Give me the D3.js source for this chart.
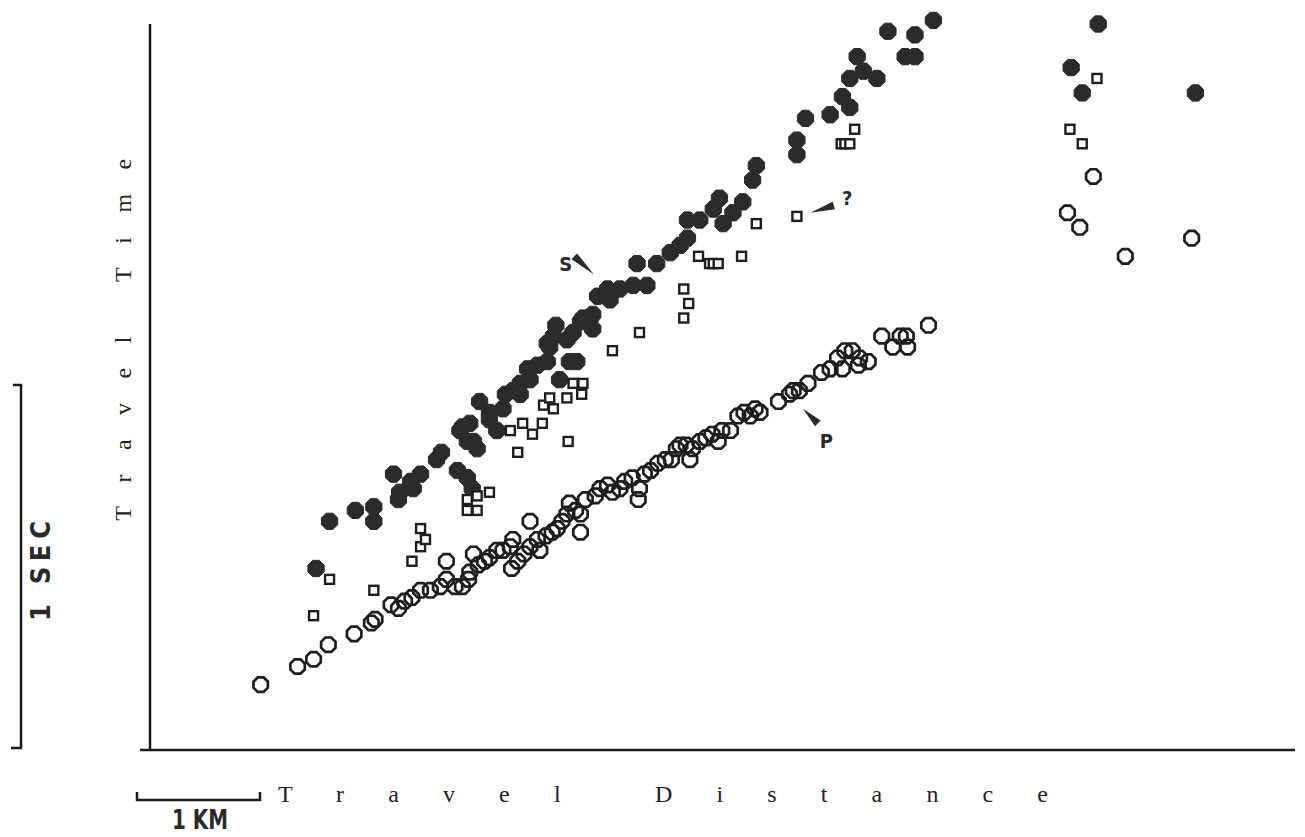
<!DOCTYPE html>
<meta charset="utf-8">
<script src="https://d3js.org/d3.v7.min.js"></script>
<style>
body { margin: 0; background: #fff; }
.axis-line { stroke: #1a1a1a; stroke-width: 2.5px; fill: none; }
.bar { stroke: #1a1a1a; stroke-width: 2.5px; fill: none; }
.ptick { fill: none; stroke: #1e1e1e; stroke-width: 2.7px; }
.stick { fill: #2b2b2b; stroke: #2b2b2b; stroke-width: 1px; }
.qtick { fill: #fff; stroke: #1e1e1e; stroke-width: 2.4px; }
.axis-title { font-family: "Liberation Serif", "DejaVu Serif", serif; font-size: 24px; fill: #222; }
.tag { font-family: "DejaVu Sans Condensed", "DejaVu Sans", sans-serif; font-weight: bold; fill: #2a2a2a; }
</style>
<div id="chart"></div>
<script>
// travel distance (km), travel time (s)
var pWave = [
  [0.90,0.18],[1.20,0.23],[1.33,0.25],[1.45,0.29],[1.66,0.32],[1.80,0.35],[1.83,0.36],[1.96,0.40],
  [2.02,0.39],[2.07,0.41],[2.13,0.42],[2.20,0.44],[2.28,0.44],[2.36,0.45],[2.41,0.47],[2.48,0.45],
  [2.54,0.45],[2.59,0.47],[2.60,0.49],[2.67,0.51],[2.72,0.52],[2.76,0.53],[2.82,0.55],[2.87,0.55],
  [2.93,0.56],[2.94,0.50],[2.99,0.52],[3.04,0.54],[3.09,0.56],[3.15,0.58],[3.17,0.55],[3.22,0.59],
  [3.27,0.60],[3.31,0.61],[3.35,0.63],[3.39,0.65],[3.41,0.68],[3.46,0.66],[3.50,0.65],[3.54,0.69],
  [3.62,0.70],[3.66,0.72],[3.72,0.73],[3.76,0.71],[3.82,0.72],[3.86,0.74],[3.92,0.75],[3.97,0.69],
  [3.98,0.72],[4.02,0.76],[4.07,0.77],[4.13,0.79],[4.19,0.80],[4.24,0.80],[4.28,0.83],[4.31,0.84],
  [4.36,0.84],[4.39,0.80],[4.41,0.83],[4.47,0.85],[4.52,0.86],[4.57,0.87],[4.62,0.85],[4.65,0.88],
  [4.72,0.88],[4.78,0.92],[4.83,0.93],[4.88,0.92],[4.92,0.94],[4.96,0.93],[5.11,0.96],[5.20,0.98],
  [5.23,0.99],[5.28,0.99],[5.35,1.01],[5.46,1.04],[5.53,1.05],[5.59,1.08],[5.63,1.05],[5.65,1.10],
  [5.71,1.10],[5.76,1.06],[5.77,1.08],[5.84,1.07],[5.95,1.14],[6.04,1.11],[6.10,1.14],[6.15,1.14],
  [6.16,1.11],[6.33,1.17],[2.41,0.52],[3.50,0.60],[2.63,0.54],[2.95,0.58],[3.09,0.63],
  [7.46,1.48],[7.56,1.44],[7.67,1.58],[7.93,1.36],[8.47,1.41]
];
var sWave = [
  [1.35,0.50],[1.46,0.63],[1.67,0.66],[1.82,0.67],[1.82,0.63],[2.02,0.69],[1.98,0.76],[2.03,0.71],
  [2.14,0.72],[2.20,0.76],[2.12,0.74],[2.33,0.80],[2.37,0.82],[2.50,0.77],[2.58,0.75],[2.62,0.72],
  [2.63,0.85],[2.60,0.90],[2.68,0.96],[2.76,0.93],[2.87,0.94],[2.95,0.99],[3.01,1.01],[3.09,1.02],
  [3.15,1.06],[3.23,1.07],[3.25,1.11],[3.33,1.02],[3.39,1.13],[3.44,1.15],[3.47,1.07],[3.50,1.18],
  [3.58,1.19],[3.60,1.16],[3.72,1.27],[3.74,1.24],[3.82,1.27],[3.93,1.28],[3.96,1.34],[4.04,1.28],
  [4.12,1.34],[4.23,1.37],[4.31,1.39],[4.37,1.41],[4.37,1.46],[4.47,1.46],[4.58,1.49],[4.63,1.52],
  [4.66,1.45],[4.74,1.48],[4.82,1.51],[4.90,1.57],[4.93,1.61],[5.26,1.68],[5.26,1.64],[5.33,1.74],
  [5.53,1.75],[5.63,1.80],[5.69,1.77],[5.69,1.85],[5.80,1.87],[5.91,1.85],[5.75,1.91],[6.00,1.98],
  [6.22,1.97],[6.14,1.91],[6.22,1.91],[6.37,2.01],[2.52,0.88],[2.89,0.98],[3.30,1.17],[3.64,1.25],
  [2.54,0.89],[2.58,0.85],[2.66,0.83],[2.76,0.91],[2.82,0.88],[3.01,0.98],[3.07,1.05],[3.23,1.12],
  [3.28,1.14],[3.41,1.07],[3.52,1.19],[3.60,1.20],
  [7.71,2.00],[7.49,1.88],[7.58,1.81],[8.50,1.81]
];
var otherPhase = [
  [1.33,0.37],[1.46,0.47],[1.82,0.44],[2.13,0.52],[2.20,0.56],[2.24,0.58],[2.20,0.61],[2.58,0.66],
  [2.66,0.66],[2.58,0.69],[2.66,0.70],[2.76,0.71],[2.99,0.82],[2.93,0.88],[3.03,0.90],[3.11,0.87],
  [3.19,0.90],[3.20,0.95],[3.25,0.97],[3.28,0.94],[3.39,0.97],[3.44,1.01],[3.52,1.01],[3.51,0.98],
  [3.40,0.85],[3.76,1.10],[3.98,1.15],[4.34,1.27],[4.38,1.23],[4.34,1.19],[4.46,1.36],
  [4.55,1.34],[4.58,1.34],[4.62,1.34],[4.81,1.36],[4.93,1.45],[5.26,1.47],[5.73,1.71],
  [5.62,1.67],[5.65,1.67],[5.69,1.67],[7.70,1.85],[7.48,1.71],[7.58,1.67]
];
// phase labels: text, label position, arrow tip, arrow base
var tagText = ["S", "P", "?"];
var tagAt = [[3.38,1.34],[5.50,0.85],[5.67,1.52]];
var tagTip = [[3.61,1.31],[5.31,0.94],[5.37,1.48]];
var tagBase = [[3.45,1.36],[5.43,0.90],[5.56,1.50]];

var width = 1305, height = 837;
var svg = d3.select("#chart").append("svg").attr("width", width).attr("height", height);

var x = d3.scaleLinear().domain([0, 9.31]).range([150, 1295]);
var y = d3.scaleLinear().domain([0, 2]).range([750, 24]);

// axes: plain lines, no ticks
svg.append("line").attr("class", "axis-line").attr("x1", x(0)).attr("x2", x(0)).attr("y1", y(2)).attr("y2", y(0) + 1);
svg.append("line").attr("class", "axis-line").attr("x1", x(0) - 10).attr("x2", x(9.31)).attr("y1", y(0)).attr("y2", y(0));

svg.append("text").attr("class", "axis-title")
  .attr("transform", "translate(131," + y(1.13) + ") rotate(-90)")
  .attr("text-anchor", "middle").attr("textLength", 362).attr("lengthAdjust", "spacing")
  .text("Travel Time");
svg.append("text").attr("class", "axis-title")
  .attr("x", 663).attr("y", 802)
  .attr("text-anchor", "middle").attr("textLength", 770).attr("lengthAdjust", "spacing")
  .text("Travel Distance");

// scale bars
var kmX = 137, kmY = 800;
svg.append("path").attr("class", "bar")
  .attr("d", "M" + kmX + "," + (kmY - 8) + "V" + kmY + "H" + (kmX + x(1) - x(0)) + "V" + (kmY - 8));
svg.append("text").attr("class", "tag").attr("x", kmX + 63).attr("y", 829)
  .attr("text-anchor", "middle").style("font-size", "26px")
  .attr("textLength", 56).attr("lengthAdjust", "spacingAndGlyphs").text("1 KM");

var secX = 21, secY = 748;
svg.append("path").attr("class", "bar")
  .attr("d", "M" + (secX - 10) + "," + secY + "H" + secX + "V" + (secY - (y(0) - y(1))) + "H" + (secX - 8));
svg.append("text").attr("class", "tag")
  .attr("transform", "translate(50,571) rotate(-90)")
  .attr("text-anchor", "middle").style("font-size", "27px")
  .attr("textLength", 100).attr("lengthAdjust", "spacing").text("1 SEC");

function octagon(r) {
  var pts = d3.range(8).map(function(i) {
    var a = Math.PI / 8 + i * Math.PI / 4;
    return [r * Math.cos(a), r * Math.sin(a)];
  });
  return "M" + pts.join("L") + "Z";
}

svg.append("g").selectAll("path").data(sWave).enter().append("path")
  .attr("class", "stick")
  .attr("d", octagon(8.8))
  .attr("transform", function(d) { return "translate(" + x(d[0]) + "," + y(d[1]) + ")"; });

svg.append("g").selectAll("path").data(pWave).enter().append("path")
  .attr("class", "ptick")
  .attr("d", octagon(7.8))
  .attr("transform", function(d) { return "translate(" + x(d[0]) + "," + y(d[1]) + ")"; });

svg.append("g").selectAll("rect").data(otherPhase).enter().append("rect")
  .attr("class", "qtick")
  .attr("x", function(d) { return x(d[0]) - 4.5; })
  .attr("y", function(d) { return y(d[1]) - 4.5; })
  .attr("width", 9).attr("height", 9);

// phase tags with wedge arrows
var tags = svg.append("g");
tagText.forEach(function(t, i) {
  var tx = x(tagTip[i][0]), ty = y(tagTip[i][1]);
  var bx = x(tagBase[i][0]), by = y(tagBase[i][1]);
  var dx = bx - tx, dy = by - ty, len = Math.sqrt(dx * dx + dy * dy);
  var nx = -dy / len * 4, ny = dx / len * 4;
  tags.append("path").attr("fill", "#2a2a2a")
    .attr("d", "M" + tx + "," + ty + "L" + (bx + nx) + "," + (by + ny) + "L" + (bx - nx) + "," + (by - ny) + "Z");
  tags.append("text").attr("class", "tag")
    .attr("x", x(tagAt[i][0])).attr("y", y(tagAt[i][1]) + 7)
    .attr("text-anchor", "middle").style("font-size", "20px").text(t);
});
</script>
